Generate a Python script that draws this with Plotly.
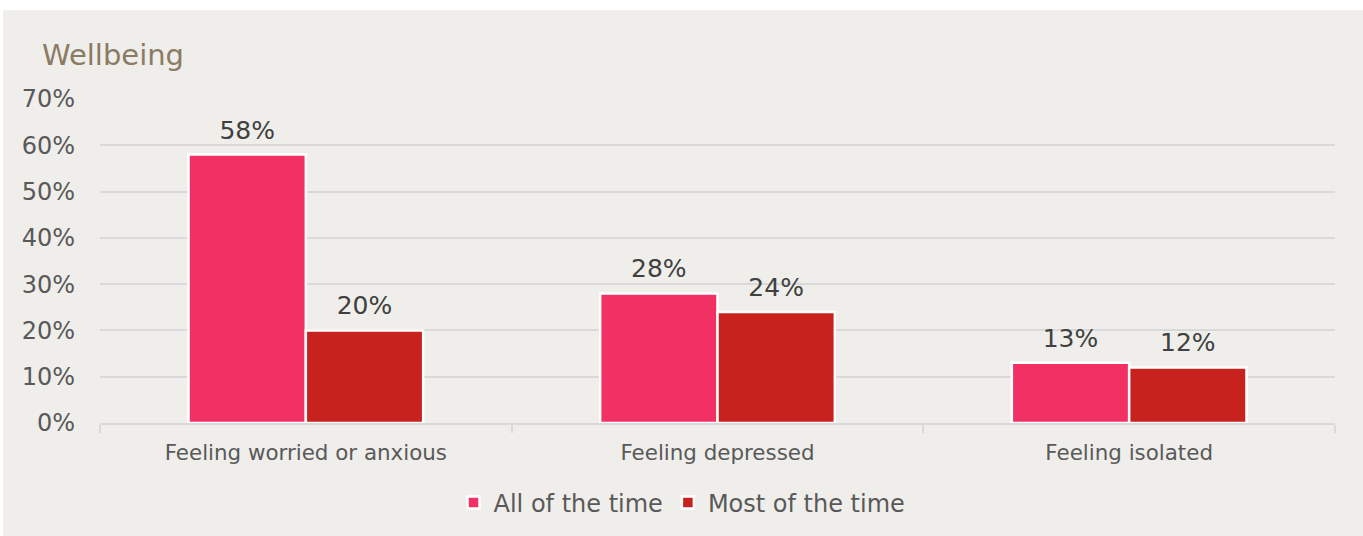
import plotly.graph_objects as go

categories = ["Feeling worried or anxious", "Feeling depressed", "Feeling isolated"]
all_of_time = [0.58, 0.28, 0.13]
most_of_time = [0.20, 0.24, 0.12]
series_names = ["All of the time", "Most of the time"]
series_colors = ["#F23064", "#C8221E"]

BG = "#EFEEEA"
FONT = "DejaVu Sans, Verdana, sans-serif"

fig = go.Figure()
for name, vals, col in zip(series_names, [all_of_time, most_of_time], series_colors):
    fig.add_trace(go.Bar(
        x=categories, y=vals, name=name, offsetgroup=name,
        marker=dict(color=col, line=dict(color="white", width=2.5)),
        hoverinfo="x+y",
    ))
for name, vals in zip(series_names, [all_of_time, most_of_time]):
    fig.add_trace(go.Scatter(
        x=categories, y=vals, mode="markers+text", offsetgroup=name,
        text=[f"{v:.0%}" for v in vals], textposition="top center",
        textfont=dict(size=25, color="#404040", family=FONT),
        marker=dict(size=14, opacity=0), showlegend=False,
        hoverinfo="skip", cliponaxis=False,
    ))

W, H = 1363, 536
L, R, T, B = 100, 28, 99, 112
pw, ph = W - L - R, H - T - B

def px_x(p):
    return (p - L) / pw

def px_y(p):
    return (H - B - p) / ph

fig.add_shape(type="rect", xref="paper", yref="paper",
              x0=px_x(3), x1=px_x(W + 5), y0=px_y(H + 5), y1=px_y(10),
              fillcolor=BG, line=dict(width=0), layer="below")

fig.update_layout(
    width=W, height=H,
    margin=dict(l=L, r=R, t=T, b=B),
    paper_bgcolor="white", plot_bgcolor=BG,
    font=dict(family=FONT, color="#595959"),
    barmode="group", bargap=0.43, bargroupgap=0.0,
    scattermode="group", scattergap=0.43,
    title=dict(text="Wellbeing", x=42 / W, xanchor="left", xref="container",
               y=1 - 55 / H, yanchor="middle", yref="container",
               font=dict(size=29, color="#8B7B65", family=FONT)),
    legend=dict(orientation="h", x=px_x(682), xanchor="center",
                y=px_y(503), yanchor="middle",
                font=dict(size=24, color="#595959", family=FONT),
                bgcolor="rgba(0,0,0,0)", itemwidth=30, tracegroupgap=0),
    showlegend=True,
)
fig.update_yaxes(range=[0, 0.7], dtick=0.1, tickformat=".0%",
                 gridcolor="#D9D9D9", gridwidth=2, zeroline=False,
                 showline=False, ticks="", ticklabelstandoff=24,
                 tickfont=dict(size=24, color="#595959", family=FONT))
fig.update_xaxes(showline=True, linecolor="#D9D9D9", linewidth=2,
                 ticks="outside", tickson="boundaries", ticklen=8,
                 tickcolor="#D9D9D9", tickwidth=2, ticklabelstandoff=9,
                 tickfont=dict(size=21.4, color="#595959", family=FONT))

fig.write_html("out.html", config={"displayModeBar": False},
               post_script="document.body.style.margin='0px';")
